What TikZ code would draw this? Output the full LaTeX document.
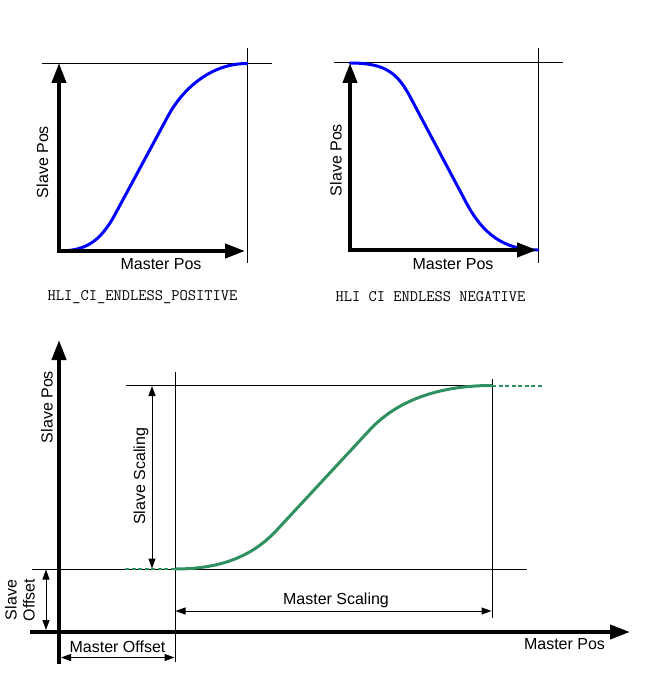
\documentclass[tikz,border=0pt]{standalone}
\usepackage{fontspec}
\setmainfont{Liberation Sans}
\usetikzlibrary{arrows.meta}
\definecolor{curvegreen}{RGB}{46,145,95}
\definecolor{curveblue}{RGB}{0,0,255}
\tikzset{
  bigarrow/.tip={Triangle[length=20pt,width=14pt]},
  smallarrow/.tip={Triangle[length=10pt,width=7pt]},
}
\begin{document}
\begin{tikzpicture}[x=1pt,y=-1pt,
  axis/.style={line width=4pt},
  guide/.style={line width=1pt},
  dimline/.style={line width=1pt,{smallarrow}-{smallarrow}},
  bluecurve/.style={curveblue,line width=3pt,line cap=round},
  greencurve/.style={curvegreen,line width=3pt},
  greendash/.style={curvegreen,line width=2pt,dash pattern=on 4pt off 2.5pt},
  lbl/.style={font=\fontsize{16}{18}\selectfont,inner sep=0pt},
  mono/.style={font=\ttfamily\fontsize{16}{18}\selectfont,inner sep=0pt}]
\useasboundingbox (0,0) rectangle (655,690);

% ---------- top-left graph ----------
\coordinate (tlO) at (59,251);
\coordinate (tlY) at (59,63);
\coordinate (tlX) at (245,251);
\coordinate (tlHa) at (42,63.5);
\coordinate (tlHb) at (272,63.5);
\coordinate (tlVa) at (247,48);
\coordinate (tlVb) at (247,263);
\draw[guide] (tlHa) -- (tlHb);
\draw[guide] (tlVa) -- (tlVb);
\begin{scope}[shift={(59,251)},x=188pt,y=187.5pt]
  \draw[bluecurve] (0,0) .. controls (0.15,0) and (0.22,0.06) .. (0.29,0.18)
     -- (0.58,0.72) .. controls (0.652,0.855) and (0.8,1) .. (1,1);
\end{scope}
\draw[axis,{bigarrow}-{bigarrow}] (tlY) -- (tlO) -- (tlX);
\node[lbl,rotate=90] (tlSlave) at (42.5,162) {Slave Pos};
\node[lbl] (tlMaster) at (161,264) {Master Pos};
\node[mono] (posName) at (142.5,297) {HLI\_CI\_ENDLESS\_POSITIVE};

% ---------- top-right graph ----------
\coordinate (trO) at (350,250);
\coordinate (trY) at (350,63);
\coordinate (trX) at (537,250);
\coordinate (trHa) at (334,63);
\coordinate (trHb) at (563,63);
\coordinate (trVa) at (538,48);
\coordinate (trVb) at (538,263);
\draw[guide] (trHa) -- (trHb);
\draw[guide] (trVa) -- (trVb);
\begin{scope}[shift={(350,250)},x=188pt,y=187pt]
  \draw[bluecurve] (0,1) .. controls (0.2,1) and (0.258,0.94) .. (0.33,0.8)
     -- (0.62,0.25) .. controls (0.707,0.085) and (0.82,0) .. (1,0);
\end{scope}
\draw[axis,{bigarrow}-{bigarrow}] (trY) -- (trO) -- (trX);
\node[lbl,rotate=90] (trSlave) at (336,160) {Slave Pos};
\node[lbl] (trMaster) at (453,264) {Master Pos};
\node[mono] (negName) at (430.5,297) {HLI CI ENDLESS NEGATIVE};

% ---------- bottom graph ----------
\coordinate (bYa) at (59,664);
\coordinate (bYb) at (59,340);
\coordinate (bXa) at (30,632);
\coordinate (bXb) at (630,632);
% guide lines
\coordinate (topHa) at (126,385.5);
\coordinate (topHb) at (492,385.5);
\coordinate (botHa) at (32,569);
\coordinate (botHb) at (527,569);
\coordinate (lVa) at (175,372);
\coordinate (lVb) at (175,662);
\coordinate (rVa) at (492,379);
\coordinate (rVb) at (492,618);
\draw[guide] (topHa) -- (topHb);
\draw[guide] (botHa) -- (botHb);
\draw[guide] (lVa) -- (lVb);
\draw[guide] (rVa) -- (rVb);
% green curve
\coordinate (gDa) at (125,569);
\coordinate (gS) at (175,569);
\coordinate (gE) at (492,385.5);
\coordinate (gDb) at (543,385.5);
\draw[greendash] (gDa) -- (gS);
\draw[greendash] (gE) -- (gDb);
\begin{scope}[shift={(175,569)},x=317pt,y=183.5pt]
  \draw[greencurve] (0,0) .. controls (0.15,0) and (0.247,0.075) .. (0.32,0.21)
     -- (0.61,0.75) .. controls (0.68,0.885) and (0.8,1) .. (1,1);
\end{scope}
% axes
\draw[axis,-{bigarrow}] (bYa) -- (bYb);
\draw[axis,-{bigarrow}] (bXa) -- (bXb);
% dimension arrows
\coordinate (ssA) at (152,386);
\coordinate (ssB) at (152,568.5);
\draw[dimline] (ssA) -- (ssB);
\coordinate (msA) at (175.5,611);
\coordinate (msB) at (491.5,611);
\draw[dimline] (msA) -- (msB);
\coordinate (soA) at (46,569.5);
\coordinate (soB) at (46,630);
\draw[dimline] (soA) -- (soB);
\coordinate (moA) at (61,657.5);
\coordinate (moB) at (174.5,657.5);
\draw[dimline] (moA) -- (moB);
% labels
\node[lbl,rotate=90] (bSlave) at (47,407) {Slave Pos};
\node[lbl,rotate=90] (ssLbl) at (141,476.5) {Slave Scaling};
\node[lbl] (msLbl) at (336,600) {Master Scaling};
\node[lbl] (moLbl) at (117.5,647) {Master Offset};
\node[lbl] (bMaster) at (564.5,644) {Master Pos};
\node[lbl,rotate=90,align=center] (soLbl) at (20,600) {Slave\\Offset};
\end{tikzpicture}
\end{document}
